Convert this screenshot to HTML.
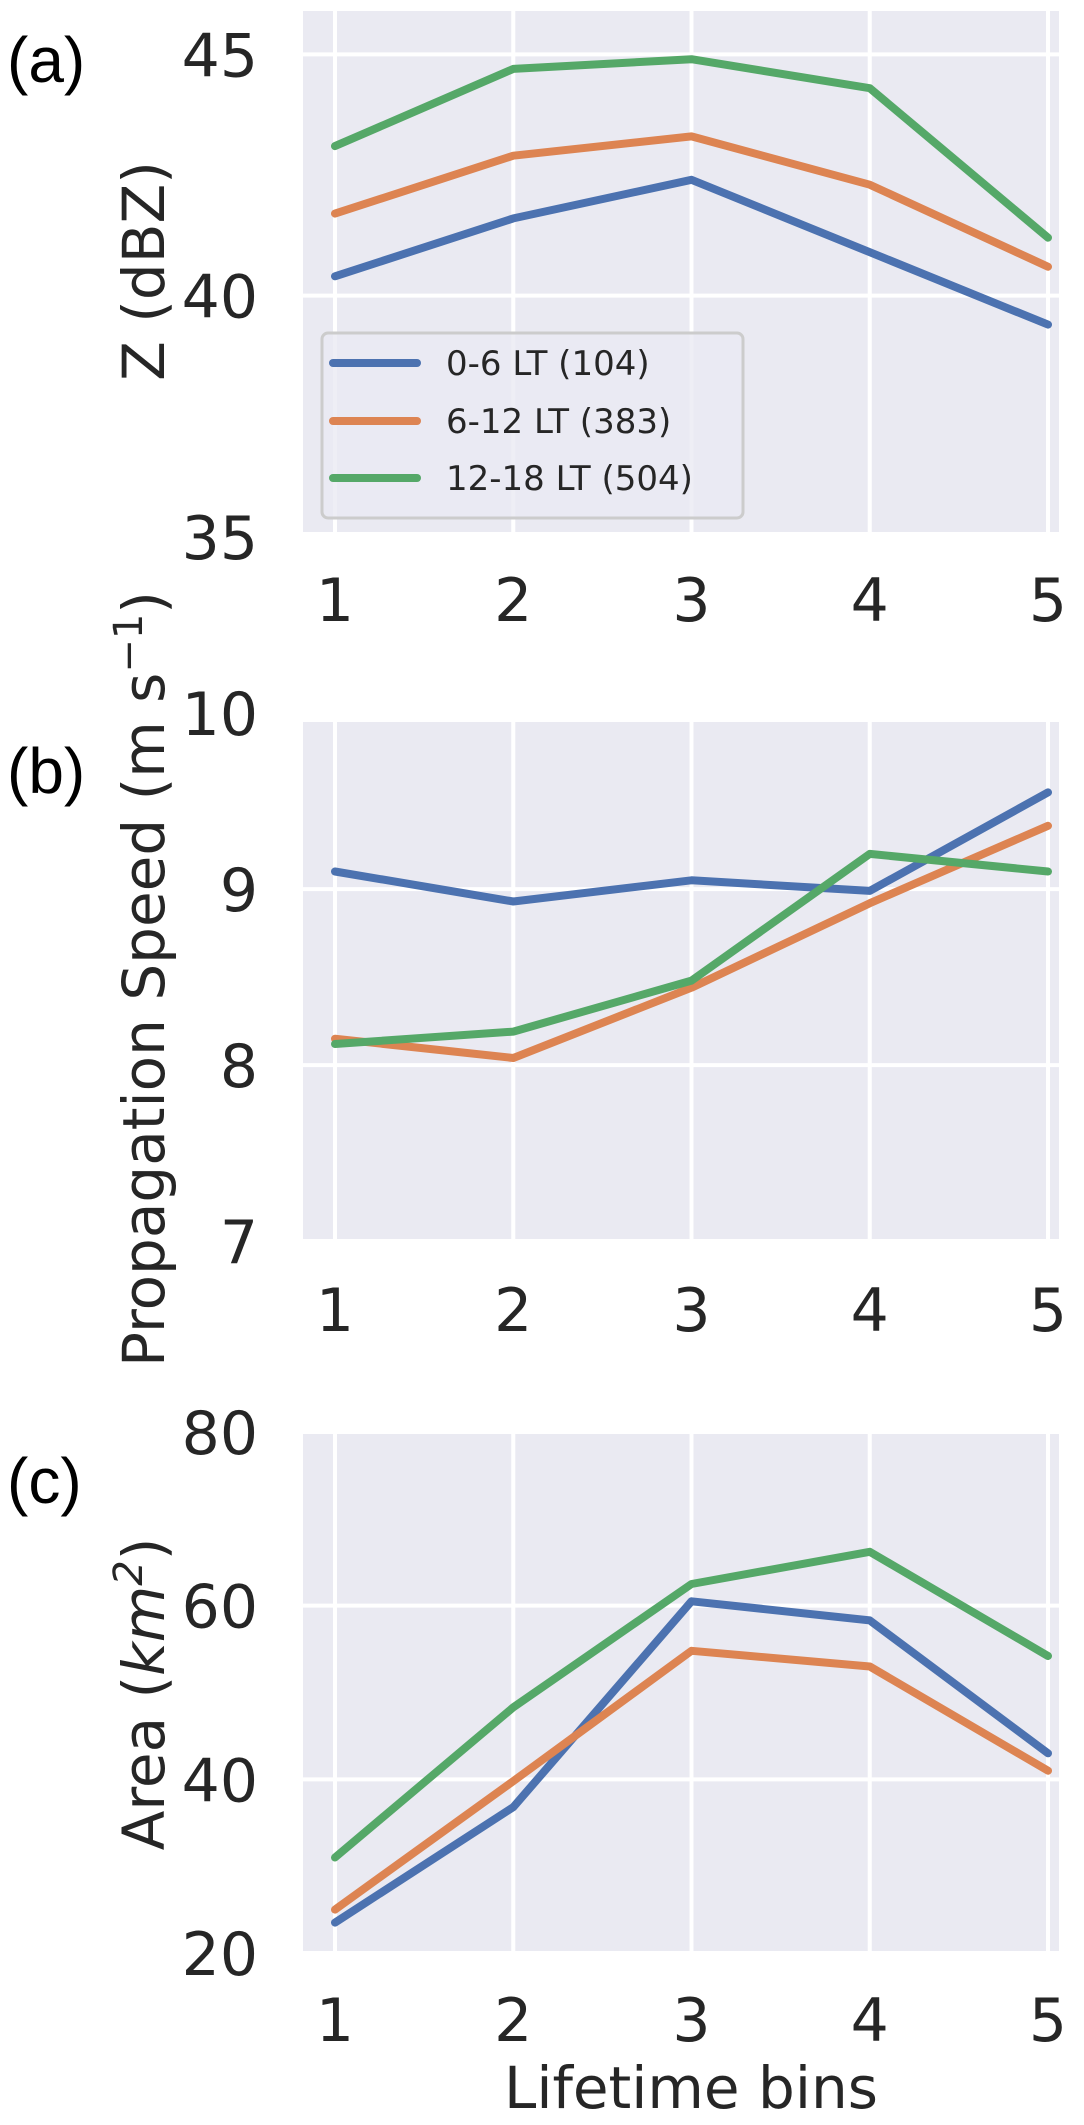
<!DOCTYPE html>
<html><head><meta charset="utf-8">
<style>
html,body{margin:0;padding:0;background:#fff;}
svg{display:block;font-family:"DejaVu Sans","Liberation Sans",sans-serif;}
</style></head>
<body>
<svg id="fig" width="1084" height="2125" viewBox="0 0 1084 2125" xmlns="http://www.w3.org/2000/svg"></svg>
<script>
const categories = [1, 2, 3, 4, 5];
const seriesNames = ["0-6 LT (104)", "6-12 LT (383)", "12-18 LT (504)"];
const zBlue = [40.4, 41.6, 42.4, 40.9, 39.4];
const zOrange = [41.7, 42.9, 43.3, 42.3, 40.6];
const zGreen = [43.1, 44.7, 44.9, 44.3, 41.2];
const speedBlue = [9.1, 8.93, 9.05, 8.99, 9.55];
const speedOrange = [8.15, 8.04, 8.44, 8.92, 9.36];
const speedGreen = [8.12, 8.19, 8.48, 9.2, 9.1];
const areaBlue = [23.5, 36.8, 60.5, 58.3, 43.0];
const areaOrange = [25.0, 39.8, 54.8, 53.0, 41.0];
const areaGreen = [31.0, 48.3, 62.5, 66.2, 54.2];
const zTicks = [35, 40, 45];
const speedTicks = [7, 8, 9, 10];
const areaTicks = [20, 40, 60, 80];

const NS = "http://www.w3.org/2000/svg";
const svg = document.getElementById("fig");
const colors = ["#4c72b0", "#dd8452", "#55a868"];
function mk(tag, attrs, parent, text) {
  const e = document.createElementNS(NS, tag);
  for (const k in attrs) e.setAttribute(k, attrs[k]);
  if (text !== undefined) e.textContent = text;
  (parent || svg).appendChild(e);
  return e;
}
const L = 303, R = 1059, X1 = 335, X5 = 1048;
function xScale(v) { return X1 + (v - 1) * (X5 - X1) / 4; }

const panels = [
  {name:"z", letter:"(a)", top:11, bottom:532, ymin:35.1, ymax:45.9, ticks:zTicks, data:[zBlue,zOrange,zGreen], xlab:599},
  {name:"speed", letter:"(b)", top:722, bottom:1241, ymin:7, ymax:9.95, ticks:speedTicks, data:[speedBlue,speedOrange,speedGreen], xlab:1309},
  {name:"area", letter:"(c)", top:1432, bottom:1953, ymin:20, ymax:80, ticks:areaTicks, data:[areaBlue,areaOrange,areaGreen], xlab:2019}
];

panels.forEach((p, pi) => {
  const g = mk("g", {});
  
  
  const yS = v => p.bottom - (v - p.ymin) * (p.bottom - p.top) / (p.ymax - p.ymin);
  const bg = mk("rect", {x:L, y:p.top, width:R-L, height:p.bottom-p.top, fill:"#eaeaf2"}, g);
  
  
  p.ticks.forEach(t => {
    const y = yS(t);
    if (y >= p.top - 1 && y <= p.bottom + 1) {
      const gl = mk("line", {x1:L, x2:R, y1:y, y2:y, stroke:"#fff", "stroke-width":4}, g);
      
      
    }
    const tl = mk("text", {x:258, y:y+22, "text-anchor":"end", "font-size":60, fill:"#262626"}, g, String(t));
    
    
  });
  categories.forEach(c => {
    const x = xScale(c);
    const gl = mk("line", {x1:x, x2:x, y1:p.top, y2:p.bottom, stroke:"#fff", "stroke-width":4}, g);
    
    
    const tl = mk("text", {x:x, y:p.xlab+22, "text-anchor":"middle", "font-size":60, fill:"#262626"}, g, String(c));
    
    
  });
  p.data.forEach((arr, si) => {
    const pts = arr.map((v, i) => xScale(categories[i]).toFixed(1) + "," + yS(v).toFixed(1)).join(" ");
    const pl = mk("polyline", {points:pts, fill:"none", stroke:colors[si], "stroke-width":8, "stroke-linejoin":"round", "stroke-linecap":"round"}, g);
    
    
  });
  const lt = mk("text", {x:7, y:p.top + 71, "font-size":64, fill:"#000", "font-family":"Liberation Sans, sans-serif"}, g, p.letter);
  
  
});

function yTitle(x, y, name, parts) {
  const t = mk("text", {transform:"translate(" + x + "," + y + ") rotate(-90)", "text-anchor":"middle", "font-size":58, fill:"#262626"});
  
  
  parts.forEach(pt => { mk("tspan", pt.attrs || {}, t, pt.text); });
  return t;
}
yTitle(164, 271, "y-axis-title-z", [{text:"Z (dBZ)"}]);
yTitle(164, 979, "y-axis-title-speed", [{text:"Propagation Speed (m s"},{text:"−1", attrs:{dy:-22, "font-size":40}},{text:")", attrs:{dy:22}}]);
yTitle(164, 1694, "y-axis-title-area", [{text:"Area ("},{text:"km", attrs:{"font-style":"italic"}},{text:"2", attrs:{dy:-22, "font-size":40, "font-style":"italic"}},{text:")", attrs:{dy:22}}]);

const xt = mk("text", {x:691, y:2108, "text-anchor":"middle", "font-size":58, fill:"#262626"}, svg, "Lifetime bins");



const lg = mk("g", {});


const lb = mk("rect", {x:322, y:333, width:421, height:185, rx:6, fill:"#eaeaf2", stroke:"#cccccc", "stroke-width":3, "fill-opacity":0.8}, lg);


const rowY = [363, 421, 478];
seriesNames.forEach((n, i) => {
  const ln = mk("line", {x1:333, x2:417, y1:rowY[i], y2:rowY[i], stroke:colors[i], "stroke-width":8, "stroke-linecap":"round"}, lg);
  
  
  const tx = mk("text", {x:446, y:rowY[i]+12, "font-size":34, fill:"#262626"}, lg, n);
  
  
});
</script>
</body></html>
